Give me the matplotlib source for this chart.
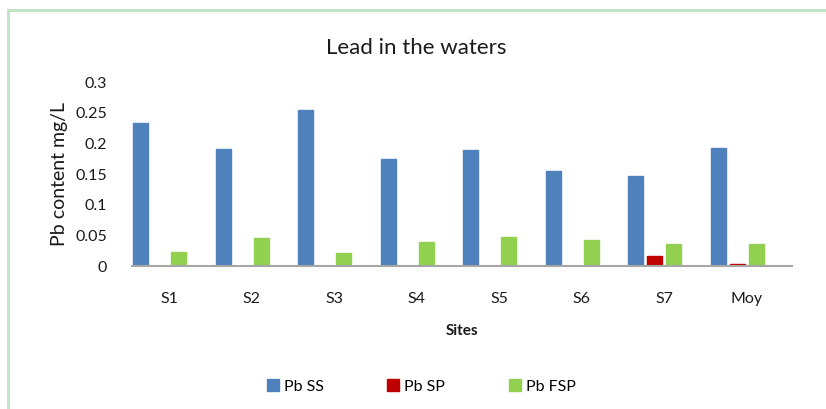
import numpy as np
import matplotlib
matplotlib.use('Agg')
import matplotlib.pyplot as plt
from matplotlib.patches import Rectangle

plt.rcParams['font.family'] = ['Lato', 'DejaVu Sans']

sites = ['S1', 'S2', 'S3', 'S4', 'S5', 'S6', 'S7', 'Moy']
pb_ss = [0.233, 0.191, 0.254, 0.175, 0.189, 0.155, 0.147, 0.192]
pb_sp = [0.0005, 0.0005, 0.0005, 0.0005, 0.0005, 0.0005, 0.017, 0.004]
pb_fsp = [0.023, 0.046, 0.021, 0.039, 0.047, 0.042, 0.036, 0.036]

series = [('Pb SS', pb_ss, '#4f81bd'),
          ('Pb SP', pb_sp, '#c00000'),
          ('Pb FSP', pb_fsp, '#92d050')]

fig = plt.figure(figsize=(8.26, 4.09), dpi=100)
# light green outer frame
fig.patches.append(Rectangle((0.01, -0.02), 1.0, 0.995, transform=fig.transFigure,
                             fill=False, edgecolor='#c3e3c9', linewidth=2.2))

ax = fig.add_axes([0.16, 0.3496, 0.799, 0.4499])
x = np.arange(len(sites))
w = 0.18
offsets = [-0.397, -0.167, 0.063]
for (name, vals, col), off in zip(series, offsets):
    ax.bar(x + off, vals, width=w, color=col, edgecolor=col, label=name, zorder=2)

ax.set_xlim(-0.5, len(sites) - 0.5)
ax.set_ylim(0, 0.3)
ax.set_yticks([0, 0.05, 0.1, 0.15, 0.2, 0.25, 0.3])
ax.set_yticklabels(['0', '0.05', '0.1', '0.15', '0.2', '0.25', '0.3'])
ax.set_xticks(x - 0.05)
ax.set_xticklabels(sites)
for s in ['top', 'right', 'left']:
    ax.spines[s].set_visible(False)
ax.spines['bottom'].set_color('#a6a6a6')
ax.spines['bottom'].set_linewidth(1.5)
ax.tick_params(axis='x', length=0, pad=19, labelsize=11.5, colors='#1a1a1a')
ax.tick_params(axis='y', length=0, pad=18, labelsize=11.5, colors='#1a1a1a')

ax.set_title('Lead in the waters', fontsize=16, pad=20, color='#1a1a1a', x=0.43)
ax.set_ylabel('Pb content mg/L', fontsize=14, labelpad=5, color='#1a1a1a')
ax.set_xlabel('Sites', fontsize=11, fontweight='bold', labelpad=13, color='#1a1a1a')

ax.legend(loc='center', bbox_to_anchor=(0.438, -0.655), ncol=3, frameon=False,
          fontsize=11.5, handlelength=0.75, handleheight=0.75, handletextpad=0.3,
          columnspacing=4.0)

fig.savefig('out.png', dpi=100)
